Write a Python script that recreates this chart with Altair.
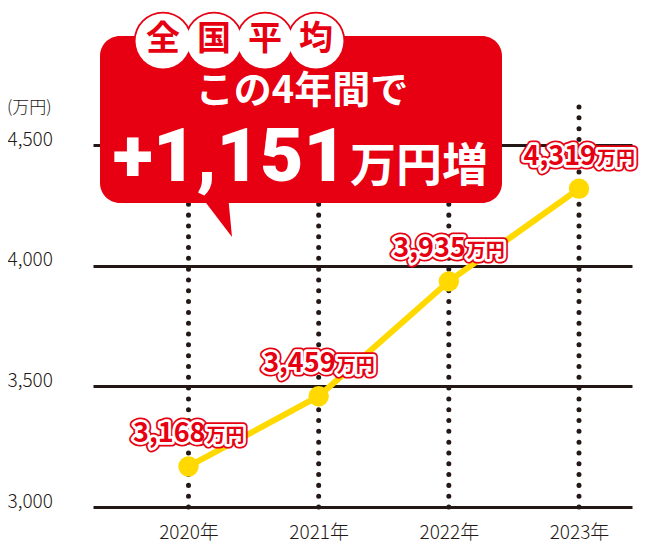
import altair as alt
import pandas as pd

# ---- data ----
years = [2020, 2021, 2022, 2023]
values = [3168, 3459, 3935, 4319]
value_labels = ["3,168", "3,459", "3,935", "4,319"]
unit_label = "万円"
y_ticks = [3000, 3500, 4000, 4500]
y_unit_title = "(万円)"
badge_chars = ["全", "国", "平", "均"]
headline_1 = "この4年間で"
headline_2 = "+1,151"
headline_3 = "万円増"

# ---- styles ----
RED = "#e60012"
YELLOW = "#ffd900"
DARK = "#231815"
AXIS_FONT = "Noto Sans CJK JP, sans-serif"
BOLD_FONT = "Noto Sans CJK JP, sans-serif"
NUM_FONT = "Roboto, Noto Sans CJK JP, sans-serif"

df = pd.DataFrame({"year": years, "value": values, "label": value_labels})
df["unit"] = unit_label

x_scale = alt.Scale(domain=[2019.2663, 2023.4072], nice=False, zero=False)
y_scale = alt.Scale(domain=[3000, 5067.7], nice=False, zero=False)

x_axis = alt.Axis(values=years, labelExpr="datum.value + '年'",
                  grid=False, domain=False, ticks=False,
                  labelPadding=16, labelFontSize=19, labelColor=DARK,
                  labelFont=AXIS_FONT, labelFontWeight=300, labelFlush=False)
y_axis = alt.Axis(values=y_ticks, labelExpr="format(datum.value, ',')", grid=True,
                  gridColor=DARK, gridWidth=3, gridOpacity=1, domain=False,
                  ticks=False, labelAlign="left", labelBaseline="alphabetic",
                  labelPadding=86, labelFontSize=19, labelColor=DARK,
                  labelFont=AXIS_FONT, labelFontWeight=300, labelFlush=False)

x_enc = alt.X("year:Q", scale=x_scale, title=None, axis=x_axis)
y_enc = alt.Y("value:Q", scale=y_scale, title=None, axis=y_axis)

base = alt.Chart(df)

line = base.mark_line(color=YELLOW, strokeWidth=6).encode(x=x_enc, y=y_enc)

rules = base.mark_rule(color=DARK, strokeWidth=5, strokeCap="round",
                       strokeDash=[0.01, 10.8]).encode(
    x=x_enc, y=alt.Y(datum=3000, scale=y_scale, title=None, axis=y_axis),
    y2=alt.datum(4690))

points = base.mark_circle(color=YELLOW, size=415, opacity=1).encode(x=x_enc, y=y_enc)

def label_layers(field, align, dx, size):
    common = dict(align=align, baseline="alphabetic", dx=dx, dy=-24,
                  font=BOLD_FONT, fontWeight="bold", fontSize=size, fill=RED,
                  strokeJoin="round")
    l1 = base.mark_text(stroke=RED, strokeWidth=9, **common).encode(
        x=x_enc, y=y_enc, text=f"{field}:N")
    l2 = base.mark_text(stroke="white", strokeWidth=5.5, **common).encode(
        x=x_enc, y=y_enc, text=f"{field}:N")
    l3 = base.mark_text(**common).encode(x=x_enc, y=y_enc, text=f"{field}:N")
    return [l1, l2, l3]

num_layers = label_layers("label", "right", 17, 27)
unit_layers = label_layers("unit", "left", 18, 19)
labels = num_layers[:2] + unit_layers[:2] + num_layers[2:] + unit_layers[2:]

one = pd.DataFrame({"k": [0]})

unit_title = alt.Chart(one).mark_text(
    text=y_unit_title, align="left", baseline="middle", font=AXIS_FONT,
    fontWeight=300, fontSize=17, color=DARK).encode(x=alt.value(-86), y=alt.value(100))

box = alt.Chart(one).mark_rect(color=RED, cornerRadius=20).encode(
    x=alt.value(7), x2=alt.value(409), y=alt.value(28), y2=alt.value(195))
tail = alt.Chart(one).mark_point(
    shape="M -0.8 -1 L 0.8 1.1 L 0.6 -1 Z", filled=True, size=1600,
    color=RED, opacity=1, strokeWidth=0).encode(x=alt.value(123), y=alt.value(207))

badge_df = pd.DataFrame({"ch": badge_chars, "i": list(range(len(badge_chars)))})
badge = alt.Chart(badge_df).transform_calculate(px="70 + datum.i * 51")
badge_x = alt.X("px:Q", scale=None, axis=None)
ring = badge.mark_circle(color=RED, opacity=1, size=3421).encode(x=badge_x, y=alt.value(33))
disc = badge.mark_circle(color="white", opacity=1, size=3019).encode(x=badge_x, y=alt.value(33))
badge_text = badge.mark_text(font=BOLD_FONT, fontWeight="bold", fontSize=34,
                             color=RED, baseline="middle", align="center").encode(
    x=badge_x, y=alt.value(32), text="ch:N")

h1 = alt.Chart(one).mark_text(text=headline_1, font=BOLD_FONT, fontWeight="bold",
                              fontSize=38, color="white", align="center",
                              baseline="middle").encode(x=alt.value(209), y=alt.value(84))
h2 = alt.Chart(one).mark_text(text=headline_2, font=NUM_FONT, fontWeight=900,
                              fontSize=75, color="white", align="right",
                              baseline="alphabetic").encode(x=alt.value(254), y=alt.value(173))
h3 = alt.Chart(one).mark_text(text=headline_3, font=BOLD_FONT, fontWeight="bold",
                              fontSize=46, color="white", align="left",
                              baseline="alphabetic").encode(x=alt.value(257), y=alt.value(173))

chart = alt.layer(
    line, rules, points, *labels, unit_title,
    box, tail, ring, disc, badge_text, h1, h2, h3
).properties(
    width=539, height=499,
    autosize=alt.AutoSizeParams(type="none"),
    padding={"left": 85, "top": 0, "right": 11, "bottom": 40},
    background="white",
).configure_view(stroke=None)

chart.save("out.html", embed_options={"renderer": "svg", "actions": False})
